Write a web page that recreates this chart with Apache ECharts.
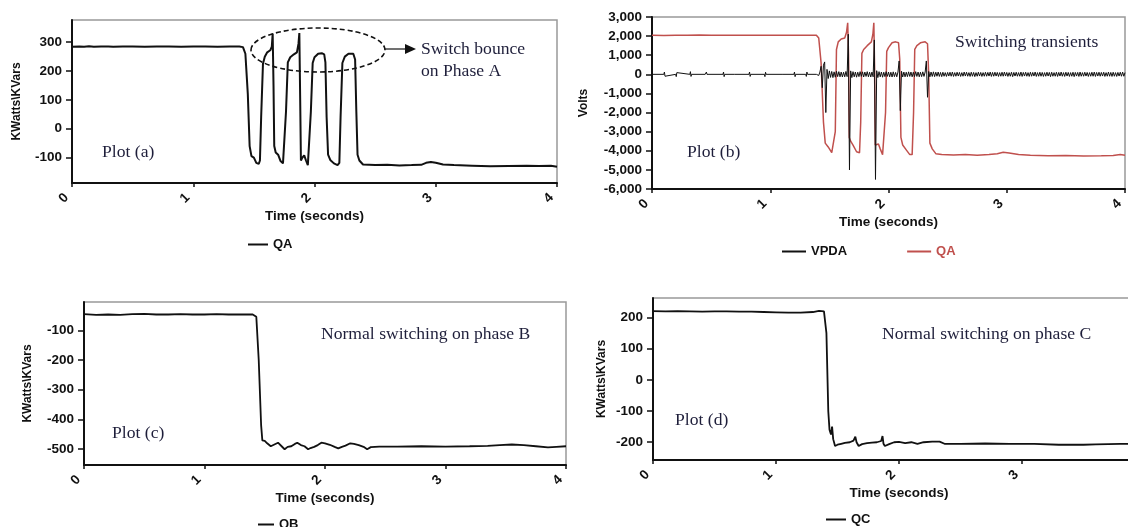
<!DOCTYPE html>
<html>
<head>
<meta charset="utf-8">
<script src="https://cdn.jsdelivr.net/npm/echarts@6/dist/echarts.min.js"></script>
<style>
  html, body { margin: 0; padding: 0; background: #fff; }
  #chart { width: 1128px; height: 527px; }
</style>
</head>
<body>
<div id="chart"></div>
<script>
// ---- Time axis ticks (seconds) ----
const timeTicks = [0, 1, 2, 3, 4];

// ---- Y tick labels per panel ----
const ticksA = [-100, 0, 100, 200, 300];
const ticksC = [-500, -400, -300, -200, -100];
const ticksD = [-200, -100, 0, 100, 200];

// ---- Plot (a): QA, KWatts\KVars, [time, value] ----
const qaA = [
  [0,284],[0.06,285],[0.1,284],[0.14,286],[0.18,284],[0.24,285],[0.3,285],[0.34,284],[0.42,285],[0.5,285],
  [0.6,284],[0.7,285],[0.8,285],[0.9,284],[1.0,285],[1.1,285],[1.2,284],[1.3,285],[1.38,285],[1.41,283],
  [1.43,260],[1.45,120],[1.465,-60],[1.48,-95],[1.50,-100],[1.52,-118],[1.54,-122],[1.55,-110],[1.56,40],
  [1.575,225],[1.59,250],[1.61,265],[1.635,272],[1.648,285],[1.655,330],[1.662,150],[1.668,-60],[1.68,-82],
  [1.70,-90],[1.72,-112],[1.74,-120],[1.755,-115],[1.765,60],[1.78,230],[1.80,248],[1.83,258],[1.855,265],
  [1.868,295],[1.875,332],[1.882,100],[1.888,-110],[1.90,-100],[1.915,-92],[1.93,-110],[1.945,-126],[1.96,-120],
  [1.97,60],[1.985,228],[2.00,248],[2.03,260],[2.06,262],[2.08,258],[2.09,230],[2.10,40],[2.112,-90],[2.13,-108],
  [2.16,-120],[2.19,-126],[2.205,-118],[2.215,40],[2.23,228],[2.25,250],[2.28,260],[2.32,260],[2.335,240],
  [2.345,60],[2.355,-90],[2.37,-110],[2.40,-124],[2.5,-126],[2.6,-125],[2.7,-127],[2.8,-126],[2.88,-125],
  [2.92,-118],[2.96,-115],[3.0,-118],[3.06,-124],[3.15,-126],[3.3,-128],[3.45,-130],[3.6,-129],[3.75,-128],
  [3.85,-129],[3.95,-128],[4.0,-132]
];

// ---- Plot (b): QA (red) and VPDA (black), Volts ----
const qaB = [
  [0,2040],[0.1,2030],[0.2,2050],[0.3,2040],[0.4,2060],[0.5,2050],[0.6,2040],[0.7,2050],[0.8,2050],[0.9,2040],
  [1.0,2050],[1.1,2050],[1.2,2040],[1.3,2050],[1.39,2050],[1.41,1900],[1.43,600],[1.45,-2500],[1.465,-3600],
  [1.49,-3800],[1.52,-4100],[1.535,-4100],[1.55,-3000],[1.56,1300],[1.575,1700],[1.60,1850],[1.63,1900],
  [1.645,2200],[1.655,2700],[1.662,1000],[1.668,-3300],[1.68,-3500],[1.70,-3700],[1.73,-4050],[1.755,-4100],
  [1.765,-2500],[1.775,1100],[1.79,1300],[1.82,1500],[1.855,1700],[1.868,2100],[1.876,2700],[1.882,500],
  [1.888,-3700],[1.90,-3800],[1.915,-3650],[1.93,-3900],[1.95,-4200],[1.965,-4150],[1.975,-2000],[1.985,1200],
  [2.00,1400],[2.03,1650],[2.06,1700],[2.085,1650],[2.095,800],[2.105,-3300],[2.12,-3700],[2.15,-3950],
  [2.18,-4200],[2.20,-4200],[2.212,-2000],[2.222,1300],[2.24,1500],[2.27,1650],[2.31,1700],[2.33,1600],
  [2.34,0],[2.35,-3600],[2.37,-3900],[2.40,-4150],[2.45,-4200],[2.55,-4220],[2.65,-4200],[2.75,-4230],
  [2.85,-4200],[2.92,-4150],[2.97,-4080],[3.02,-4120],[3.1,-4200],[3.2,-4230],[3.35,-4260],[3.5,-4250],
  [3.65,-4270],[3.8,-4260],[3.9,-4250],[3.96,-4200],[4.0,-4230]
];

// VPDA before switching: near zero with small blips, [time, volts]
const vpdaQuiet = [
  [0,0],[0.1,0],[0.105,120],[0.11,-100],[0.115,0],[0.2,0],[0.205,-120],[0.21,90],[0.215,0],[0.32,0],[0.325,140],
  [0.33,-110],[0.335,0],[0.45,0],[0.455,-100],[0.46,120],[0.465,0],[0.6,0],[0.605,120],[0.61,-120],[0.615,0],
  [0.7,0],[0.705,-90],[0.71,100],[0.715,0],[0.82,0],[0.825,120],[0.83,-110],[0.835,0],[0.95,0],[0.955,-120],
  [0.96,110],[0.965,0],[1.1,0],[1.105,100],[1.11,-90],[1.115,0],[1.2,0],[1.205,120],[1.21,-120],[1.215,0],
  [1.3,0],[1.305,-110],[1.31,120],[1.315,0],[1.39,0]
];
// VPDA from 1.40 s onward, sampled every 0.01 s (volts)
const vpdaStart = 1.40;
const vpdaStep = 0.01;
const vpdaBurst = [
  20, -60, 120, 420, -700, 480, 650, -2000, 260, -220,
  180, -160, 150, -170, 130, -150, 160, -120, 140, -130,
  120, -140, 110, -130, 150, -120, 2100, -5000, 180, -170,
  140, -130, 120, -150, 110, -120, 140, -110, 130, -140,
  120, -110, 140, -130, 110, -140, 120, -130, 1800, -5500,
  190, -170, 140, -130, 120, -150, 110, -120, 140, -110,
  120, -130, 110, -140, 130, -120, 100, -130, 120, 700,
  -1900, 160, -140, 120, -130, 110, -120, 130, -110, 120,
  -130, 110, -120, 140, -110, 120, -130, 110, -120, 130,
  -110, 120, 700, -1200, 150, -130, 120, -110, 130, -120,
  110, -100, 120, -110, 100, -120, 110, -100, 90, -110,
  100, -90, 110, -100, 120, -110, 90, -100, 110, -90,
  100, -110, 90, -100, 120, -90, 110, -100, 90, -110,
  110, -100, 100, -120, 90, -100, 110, -90, 100, -110,
  90, -100, 110, -100, 100, -90, 120, -110, 100, -100,
  110, -90, 100, -110, 90, -100, 110, -100, 120, -90,
  100, -110, 90, -100, 110, -120, 100, -90, 110, -100,
  90, -100, 120, -110, 100, -90, 110, -100, 90, -110,
  110, -100, 100, -90, 120, -110, 90, -100, 110, -100,
  100, -110, 90, -100, 110, -90, 100, -120, 110, -100,
  90, -100, 110, -110, 100, -90, 120, -100, 90, -110,
  110, -90, 100, -110, 90, -100, 110, -120, 100, -90,
  100, -110, 120, -100, 90, -100, 110, -90, 100, -110,
  90, -100, 110, -100, 120, -110, 100, -90, 110, -100,
  100, -90, 110, -110, 90, -100, 120, -100, 100, -110,
  110, -100, 90, -110, 100, -90, 110, -100, 120, -100,
  90
];

// ---- Plot (c): QB ----
const qbC = [
  [0,-46],[0.1,-48],[0.2,-47],[0.3,-48],[0.4,-46],[0.5,-45],[0.6,-47],[0.7,-47],[0.8,-46],[0.9,-47],
  [1.0,-47],[1.1,-46],[1.2,-47],[1.3,-47],[1.4,-47],[1.43,-55],[1.45,-200],[1.47,-420],[1.48,-470],
  [1.50,-472],[1.52,-480],[1.55,-490],[1.58,-484],[1.61,-478],[1.64,-490],[1.665,-500],[1.69,-492],
  [1.72,-490],[1.75,-482],[1.77,-478],[1.80,-486],[1.83,-490],[1.86,-500],[1.88,-496],[1.91,-492],
  [1.94,-486],[1.97,-478],[2.0,-480],[2.04,-485],[2.08,-492],[2.11,-497],[2.14,-492],[2.17,-488],
  [2.21,-480],[2.24,-482],[2.28,-486],[2.32,-492],[2.35,-500],[2.38,-493],[2.45,-491],[2.6,-491],
  [2.8,-490],[3.0,-491],[3.2,-490],[3.35,-489],[3.45,-486],[3.55,-484],[3.65,-486],[3.75,-490],
  [3.85,-494],[3.92,-492],[4.0,-490]
];

// ---- Plot (d): QC ----
const qcD = [
  [0,221],[0.1,220],[0.2,221],[0.3,220],[0.4,219],[0.5,220],[0.6,220],[0.7,219],[0.8,219],[0.9,218],
  [1.0,217],[1.1,216],[1.2,216],[1.3,218],[1.35,222],[1.39,220],[1.41,150],[1.425,-100],[1.435,-160],
  [1.447,-175],[1.456,-150],[1.465,-190],[1.48,-212],[1.50,-208],[1.53,-205],[1.56,-202],[1.60,-200],
  [1.63,-195],[1.645,-182],[1.655,-200],[1.672,-212],[1.70,-206],[1.74,-203],[1.78,-201],[1.82,-200],
  [1.855,-196],[1.866,-180],[1.874,-205],[1.885,-212],[1.92,-206],[1.96,-200],[2.0,-199],[2.05,-203],
  [2.1,-200],[2.15,-205],[2.2,-200],[2.27,-198],[2.33,-198],[2.37,-205],[2.5,-205],[2.7,-204],
  [2.9,-205],[3.1,-205],[3.3,-208],[3.5,-208],[3.6,-207],[3.8,-205],[4.0,-205]
];

// Build the VPDA trace from the quiet part and the sampled burst
const vpdaB = vpdaQuiet.concat(
  vpdaBurst.map((v, i) => [+(vpdaStart + i * vpdaStep).toFixed(2), v])
);

const INK = '#111';
const RED = '#c0504d';
const NOTE = '#1e1e3a';
const SANS = '"Liberation Sans", Arial, sans-serif';
const SERIF = '"Liberation Serif", "Times New Roman", serif';

const grids = [
  { left: 72,  top: 20,  width: 485, height: 163 },
  { left: 652, top: 17,  width: 473, height: 172 },
  { left: 84,  top: 302, width: 482, height: 163 },
  { left: 653, top: 298, width: 492, height: 162 }
];

const xNameGaps = [25, 22, 23, 23];

function makeX(i) {
  return {
    gridIndex: i,
    type: 'value',
    min: 0, max: 4, interval: 1,
    name: 'Time (seconds)',
    nameLocation: 'middle',
    nameGap: xNameGaps[i],
    nameTextStyle: { fontFamily: SANS, fontWeight: 'bold', fontSize: 13.5, color: INK },
    axisLine: { show: true, onZero: false, lineStyle: { color: INK, width: 2 } },
    axisTick: { show: true, length: 4, lineStyle: { color: INK, width: 1.5 } },
    axisLabel: {
      rotate: 45, margin: 7, padding: [0, 8, 0, 0],
      fontFamily: SANS, fontWeight: 'bold', fontSize: 13.5, color: INK,
      formatter: v => timeTicks.indexOf(v) >= 0 ? String(v) : ''
    },
    splitLine: { show: false }
  };
}

function makeY(i, cfg) {
  const y = {
    gridIndex: i,
    type: 'value',
    min: cfg.min, max: cfg.max,
    name: cfg.name,
    nameLocation: 'middle',
    nameRotate: 90,
    nameGap: cfg.nameGap,
    nameTextStyle: { fontFamily: SANS, fontWeight: 'bold', fontSize: 12, color: INK },
    axisLine: { show: true, onZero: false, lineStyle: { color: INK, width: 2 } },
    axisTick: { show: true, length: 6, lineStyle: { color: INK, width: 1.5 } },
    axisLabel: {
      margin: 10, fontFamily: SANS, fontWeight: 'bold', fontSize: 13.5, color: INK,
      formatter: v => v.toLocaleString('en-US')
    },
    splitLine: { show: false }
  };
  if (cfg.ticks) {
    y.axisLabel.customValues = cfg.ticks;
    y.axisTick.customValues = cfg.ticks;
  } else {
    y.interval = cfg.interval;
  }
  return y;
}

function noteText(x, y, text) {
  return {
    type: 'text', x: x, y: y, scaleX: 1.1, z: 20,
    style: { text: text, font: '16px ' + SERIF, fill: NOTE, align: 'left', verticalAlign: 'middle' }
  };
}

const legendBase = {
  orient: 'horizontal',
  icon: 'rect',
  itemWidth: 20,
  itemHeight: 2,
  padding: 0,
  selectedMode: false,
  textStyle: { fontFamily: SANS, fontWeight: 'bold', fontSize: 13, color: INK }
};

const option = {
  animation: false,
  backgroundColor: '#fff',
  grid: grids.map(g => Object.assign({
    show: true, borderColor: '#999', borderWidth: 1.5, backgroundColor: 'transparent',
    containLabel: false, outerBoundsMode: 'none'
  }, g)),
  xAxis: [0, 1, 2, 3].map(makeX),
  yAxis: [
    makeY(0, { min: -188, max: 377, ticks: ticksA, name: 'KWatts\\KVars', nameGap: 49 }),
    makeY(1, { min: -6000, max: 3000, interval: 1000, name: 'Volts', nameGap: 62 }),
    makeY(2, { min: -553, max: -5, ticks: ticksC, name: 'KWatts\\KVars', nameGap: 50 }),
    makeY(3, { min: -257, max: 263, ticks: ticksD, name: 'KWatts\\KVars', nameGap: 45 })
  ],
  legend: [
    Object.assign({}, legendBase, { left: 248, top: 238, data: [{ name: 'QA', itemStyle: { color: INK } }] }),
    Object.assign({}, legendBase, {
      left: 782, top: 245, itemWidth: 24, itemGap: 60,
      data: [
        { name: 'VPDA', itemStyle: { color: INK } },
        { name: 'QA', itemStyle: { color: RED }, textStyle: { color: RED } }
      ]
    }),
    Object.assign({}, legendBase, { left: 258, top: 518, itemWidth: 16, data: [{ name: 'QB', itemStyle: { color: INK } }] }),
    Object.assign({}, legendBase, { left: 826, top: 513, data: [{ name: 'QC', itemStyle: { color: INK } }] })
  ],
  series: [
    { name: 'QA', type: 'line', xAxisIndex: 0, yAxisIndex: 0, data: qaA, showSymbol: false,
      lineStyle: { color: INK, width: 2 }, itemStyle: { color: INK }, z: 2 },
    { name: 'QA', type: 'line', xAxisIndex: 1, yAxisIndex: 1, data: qaB, showSymbol: false,
      lineStyle: { color: RED, width: 1.5 }, itemStyle: { color: RED }, z: 2 },
    { name: 'VPDA', type: 'line', xAxisIndex: 1, yAxisIndex: 1, data: vpdaB, showSymbol: false,
      lineStyle: { color: INK, width: 1 }, itemStyle: { color: INK }, z: 3 },
    { name: 'QB', type: 'line', xAxisIndex: 2, yAxisIndex: 2, data: qbC, showSymbol: false,
      lineStyle: { color: INK, width: 1.8 }, itemStyle: { color: INK }, z: 2 },
    { name: 'QC', type: 'line', xAxisIndex: 3, yAxisIndex: 3, data: qcD, showSymbol: false,
      lineStyle: { color: INK, width: 1.8 }, itemStyle: { color: INK }, z: 2 }
  ],
  graphic: [
    // dashed ring around the bounce peaks, with pointer to the note
    { type: 'ellipse', z: 20, shape: { cx: 318, cy: 50, rx: 67, ry: 22 },
      style: { fill: 'none', stroke: INK, lineWidth: 1.6, lineDash: [5, 3] } },
    { type: 'line', z: 20, shape: { x1: 385, y1: 49, x2: 407, y2: 49 },
      style: { stroke: INK, lineWidth: 1.2 } },
    { type: 'polygon', z: 20, shape: { points: [[405, 44], [416, 49], [405, 54]] },
      style: { fill: INK } },
    noteText(421, 50, 'Switch bounce'),
    noteText(421, 72, 'on Phase A'),
    noteText(102, 153, 'Plot (a)'),
    noteText(955, 43, 'Switching transients'),
    noteText(687, 153, 'Plot (b)'),
    noteText(321, 335, 'Normal switching on phase B'),
    noteText(112, 434, 'Plot (c)'),
    noteText(882, 335, 'Normal switching on phase C'),
    noteText(675, 421, 'Plot (d)')
  ]
};

const chart = echarts.init(document.getElementById('chart'), null, { renderer: 'canvas' });
chart.setOption(option);
</script>
</body>
</html>
